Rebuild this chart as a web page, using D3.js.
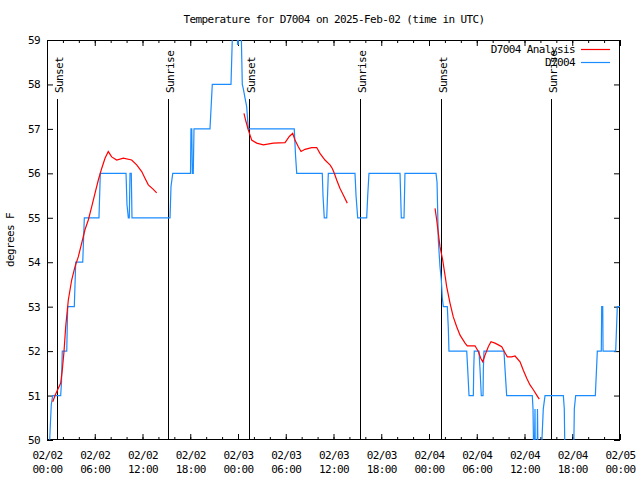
<!DOCTYPE html>
<html><head><meta charset="utf-8">
<script src="https://cdn.jsdelivr.net/npm/d3@7"></script>
<style>
body{margin:0;background:#fff}
svg text{font-family:"DejaVu Sans Mono",monospace;font-size:11px;letter-spacing:-0.6px;fill:#000}
</style>
</head><body><svg id="c" width="640" height="480"></svg>
<script>
// ---- data (hours since 02/02 00:00 UTC, degrees F) ----
const title = "Temperature for D7004 on 2025-Feb-02 (time in UTC)";
const yTitle = "degrees F";
const seriesNames = ["D7004 Analysis", "D7004"];
const xTickHours = [0, 6, 12, 18, 24, 30, 36, 42, 48, 54, 60, 66, 72];
const xTickDates = ["02/02","02/02","02/02","02/02","02/03","02/03","02/03","02/03","02/04","02/04","02/04","02/04","02/05"];
const xTickTimes = ["00:00","06:00","12:00","18:00","00:00","06:00","12:00","18:00","00:00","06:00","12:00","18:00","00:00"];
const yTickValues = [50, 51, 52, 53, 54, 55, 56, 57, 58, 59];
const sunHours = [1.29, 15.2, 25.42, 39.37, 49.55, 63.37];
const sunLabels = ["Sunset", "Sunrise", "Sunset", "Sunrise", "Sunset", "Sunrise"];

const obsHours = [0.34,0.41,0.54,0.72,1.72,1.82,1.92,2.48,2.60,3.43,3.61,4.49,4.69,6.53,6.70,9.93,10.05,10.22,10.34,10.43,10.59,10.68,15.46,15.58,15.80,18.03,18.09,18.19,18.26,18.38,18.47,20.48,20.77,23.12,23.28,23.43,23.87,23.94,24.04,24.09,24.31,24.54,24.67,24.88,25.09,25.29,31.07,31.23,31.38,34.59,34.68,34.84,35.15,35.25,35.35,38.70,38.83,39.04,40.17,40.30,40.46,44.36,44.52,44.86,44.98,48.88,49.01,49.17,49.38,49.55,49.67,49.80,50.30,50.43,50.51,52.74,52.86,53.03,53.57,53.62,53.69,54.28,54.41,54.57,54.79,54.83,54.91,57.42,57.55,57.76,60.98,61.07,61.20,61.32,61.38,61.57,61.63,61.74,61.95,62.36,62.58,64.88,65.00,65.13,66.13,66.26,66.43,68.90,69.15,69.65,69.70,69.83,69.87,69.99,71.46,71.66,72.0];
const obsTemps = [50,50.3,50.8,51,51,51.3,52,52,53,53,54,54,55,55,56,56,55.3,55,55,56,56,55,55,55.7,56,56,57,57,56,56,57,57,58,58,59,60,60,58.9,58.9,60,60,58,57.9,57.7,57.5,57,57,56.4,56,56,55.5,55,55,55.5,56,56,55.5,55,55,55.5,56,56,55,55,56,56,55.8,54.5,53.9,53.6,53.2,53,53,52.5,52,52,51.6,51,51,51.6,52,52,51.6,51,51,51.6,52,52,51.6,51,51,50.7,49,50.7,49,49,50.7,49,49,50.7,51,51,50.7,49,49,50.7,51,51,52,52,53,53,52,52,52,53,53];

const anaHours = [0.72,1.01,1.72,1.92,2.14,2.35,2.68,3.10,3.52,3.93,4.36,4.77,5.19,5.62,6.03,6.45,6.87,7.29,7.70,8.13,8.76,9.59,10.64,11.27,11.90,12.31,12.73,13.36,13.78,
  null,
  24.75,25.01,25.29,25.51,25.72,26.35,27.18,28.44,29.91,30.45,30.87,31.16,31.58,31.92,32.42,33.26,33.89,34.30,34.93,35.56,35.85,36.10,36.40,36.82,37.23,37.73,
  null,
  48.76,48.97,49.17,49.38,49.72,50.01,50.22,50.64,51.05,51.48,51.90,52.53,52.81,53.78,54.20,54.50,54.75,55.04,55.45,55.79,56.29,56.71,57.14,57.46,57.84,58.39,58.81,59.44,59.85,60.28,60.69,61.11,61.53,61.86];
const anaTemps = [50.86,51.0,51.28,51.57,52.0,52.55,53.15,53.6,53.9,54.12,54.43,54.73,54.95,55.25,55.55,55.85,56.11,56.34,56.49,56.37,56.3,56.34,56.3,56.19,56.04,55.89,55.74,55.64,55.56,
  null,
  57.35,57.16,56.98,56.86,56.75,56.68,56.64,56.68,56.69,56.83,56.9,56.75,56.6,56.49,56.54,56.58,56.58,56.45,56.3,56.19,56.11,56.0,55.85,55.66,55.51,55.33,
  null,
  55.21,54.95,54.65,54.35,54.05,53.71,53.45,53.08,52.77,52.55,52.36,52.18,52.12,52.12,51.99,51.84,51.76,51.91,52.1,52.21,52.18,52.14,52.1,51.99,51.87,51.87,51.89,51.76,51.57,51.39,51.24,51.13,51.01,50.92];

// ---- layout ----
const L = 47, R = 620, T = 40, B = 440;
const svg = d3.select("#c");
const x = d3.scaleLinear().domain([0, 72]).range([L, R]);
const y = d3.scaleLinear().domain([50, 59]).range([B, T]);
const red = "#ff0000", blue = "#1a8cff";

svg.append("defs").append("clipPath").attr("id", "clip")
  .append("rect").attr("x", L).attr("y", T).attr("width", R - L).attr("height", B - T);

// title
svg.append("text").attr("x", 334).attr("y", 23).attr("text-anchor", "middle").text(title);
// y title
svg.append("text").attr("transform", "translate(14,240) rotate(-90)").attr("text-anchor", "middle").text(yTitle);

// axes
const minorHours = d3.range(0, 73, 2);
function noDomain(g){ g.select(".domain").remove(); }
svg.append("g").attr("transform", `translate(0,${B})`)
  .call(d3.axisBottom(x).tickValues(minorHours).tickSizeInner(-3).tickSizeOuter(0).tickFormat(""))
  .call(noDomain);
svg.append("g").attr("transform", `translate(0,${T})`)
  .call(d3.axisTop(x).tickValues(minorHours).tickSizeInner(-3).tickSizeOuter(0).tickFormat(""))
  .call(noDomain);
svg.append("g").attr("transform", `translate(0,${T})`)
  .call(d3.axisTop(x).tickValues(xTickHours).tickSizeInner(-6).tickSizeOuter(0).tickFormat(""))
  .call(noDomain);
const xb = svg.append("g").attr("transform", `translate(0,${B})`)
  .call(d3.axisBottom(x).tickValues(xTickHours).tickSizeInner(-6).tickSizeOuter(0).tickPadding(10))
  .call(noDomain);
xb.selectAll(".tick text").each(function(d, i){
  const t = d3.select(this);
  t.text(null).attr("y", 19).attr("dy", null);
  t.append("tspan").attr("x", 0).attr("dy", 0).text(xTickDates[i]);
  t.append("tspan").attr("x", 0).attr("dy", 14).text(xTickTimes[i]);
});
svg.append("g").attr("transform", `translate(${L},0)`)
  .call(d3.axisLeft(y).tickValues(yTickValues).tickSizeInner(-6).tickSizeOuter(0).tickPadding(7).tickFormat(d3.format("d")))
  .call(noDomain);
svg.append("g").attr("transform", `translate(${R},0)`)
  .call(d3.axisRight(y).tickValues(yTickValues).tickSizeInner(-6).tickSizeOuter(0).tickFormat(""))
  .call(noDomain);

// frame
svg.append("rect").attr("x", L + 0.5).attr("y", T + 0.5).attr("width", R - L - 1).attr("height", B - T - 1)
  .attr("fill", "none").attr("stroke", "#000").attr("stroke-width", 1);

// sunrise / sunset markers
const sun = svg.append("g");
sunHours.forEach((h, i) => {
  const px = Math.round(x(h)) + 0.5;
  sun.append("line").attr("x1", px).attr("x2", px).attr("y1", 99).attr("y2", B)
    .attr("stroke", "#000").attr("stroke-width", 1);
  sun.append("text").attr("transform", `translate(${px + 5},93) rotate(-90)`)
    .attr("text-anchor", "start").text(sunLabels[i]);
});

// series
const plot = svg.append("g").attr("clip-path", "url(#clip)");
const lineGen = d3.line().defined(d => d[0] !== null && d[1] !== null).x(d => x(d[0])).y(d => y(d[1]));
plot.append("path").datum(obsHours.map((h, i) => [h, obsTemps[i]]))
  .attr("d", lineGen).attr("fill", "none").attr("stroke", blue).attr("stroke-width", 1.2);
plot.append("path").datum(anaHours.map((h, i) => [h, anaTemps[i]]))
  .attr("d", lineGen).attr("fill", "none").attr("stroke", red).attr("stroke-width", 1.2);

// legend
const legY = [49, 62], legCol = [red, blue];
seriesNames.forEach((n, i) => {
  svg.append("text").attr("x", 575).attr("y", legY[i] + 4).attr("text-anchor", "end").text(n);
  svg.append("line").attr("x1", 581).attr("x2", 610).attr("y1", legY[i] + 0.5).attr("y2", legY[i] + 0.5)
    .attr("stroke", legCol[i]).attr("stroke-width", 1.2);
});
</script>
</body></html>
